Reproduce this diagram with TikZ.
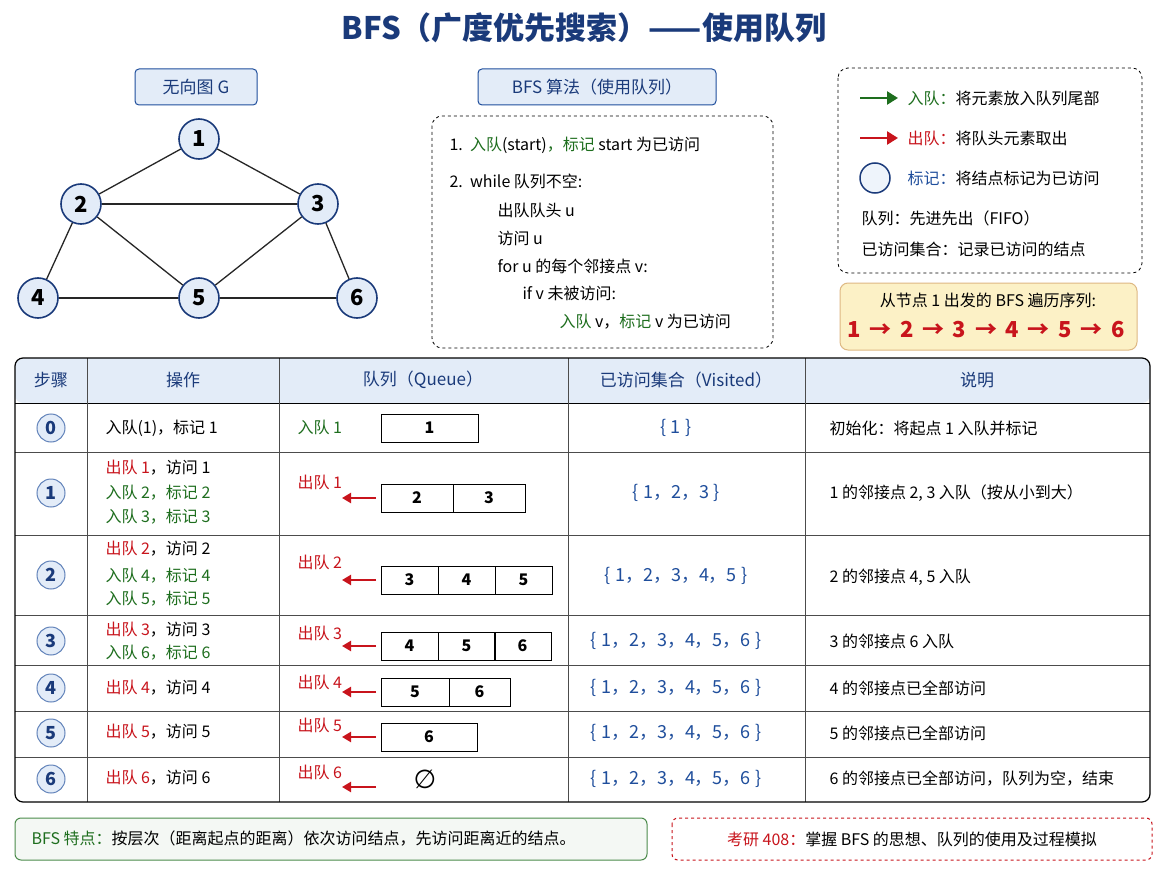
\documentclass[tikz,border=0pt]{standalone}
\usepackage{fontspec}
\setmainfont{Noto Sans CJK SC}
\newfontfamily\djv{DejaVu Sans}
\usetikzlibrary{arrows.meta}
\definecolor{gr}{HTML}{1E6E1E}
\definecolor{rd}{HTML}{C8141C}
\definecolor{bl}{HTML}{1F4E9C}
\definecolor{nv}{HTML}{1A3A7A}
\definecolor{lb}{HTML}{E3ECF8}
\definecolor{yl}{HTML}{FCF1C6}
\newcommand{\G}[1]{\textcolor{gr}{#1}}
\newcommand{\R}[1]{\textcolor{rd}{#1}}
\begin{document}
\begin{tikzpicture}[x=1pt,y=-1pt,
 every node/.style={font=\fontsize{16}{19}\selectfont},
 gn/.style={circle,draw=nv,line width=1.6pt,fill=lb,minimum size=40pt,inner sep=0pt,font=\fontsize{22}{24}\selectfont\bfseries},
 hd/.style={draw=bl,line width=1pt,fill=lb,rounded corners=4pt,minimum height=36pt,font=\fontsize{17}{19}\selectfont,text=nv},
 st/.style={circle,draw=bl!70,line width=1pt,fill=lb,minimum size=28pt,inner sep=0pt,font=\fontsize{18}{20}\selectfont\bfseries,text=nv},
 qc/.style={draw,line width=1pt,minimum height=28pt,inner sep=0pt,font=\fontsize{16}{18}\selectfont\bfseries},
 ar/.style={draw=rd,line width=2.2pt,-{Triangle[length=9pt,width=10pt]}},
 lt/.style={anchor=west},
 vs/.style={text=bl,font=\fontsize{18}{20}\selectfont}]
\useasboundingbox (0,0) rectangle (1168,880);
\fill[white] (0,0) rectangle (1168,880);
\node[text=nv,font=\fontsize{31}{34}\selectfont\bfseries] (title) at (584,28) {BFS（广度优先搜索）——使用队列};
% graph
\node[hd,minimum width=122pt] (gh) at (196,87) {无向图 G};
\node[gn] (n1) at (199,139) {1};
\node[gn] (n2) at (81,204) {2};
\node[gn] (n3) at (318,204) {3};
\node[gn] (n4) at (38,298) {4};
\node[gn] (n5) at (199,298) {5};
\node[gn] (n6) at (357,298) {6};
\foreach \a/\b in {n1/n2,n1/n3,n2/n3,n2/n4,n2/n5,n3/n5,n3/n6,n4/n5,n5/n6}
 \draw[line width=1.3pt,black!85] (\a) -- (\b);
% algorithm
\node[hd,minimum width=238pt] (ah) at (597,87) {BFS 算法（使用队列）};
\draw[dashed,line width=0.8pt,rounded corners=10pt] (432,116) rectangle (773,348);
\node[lt] (a1) at (446,145) {1.\ \ \G{入队}(start)\G{，标记} start 为已访问};
\node[lt] (a2) at (446,181) {2.\ \ while 队列不空:};
\node[lt] (a3) at (494,210) {出队队头 u};
\node[lt] (a4) at (494,238) {访问 u};
\node[lt] (a5) at (494,266) {for u 的每个邻接点 v:};
\node[lt] (a6) at (519,293) {if v 未被访问:};
\node[lt] (a7) at (556,322) {\G{入队} v，\G{标记} v 为已访问};
% legend
\draw[dashed,line width=0.8pt,rounded corners=10pt] (838,68) rectangle (1142,273);
\coordinate (g1) at (860,98); \coordinate (g2) at (898,98);
\draw[draw=gr,line width=2.5pt,-{Triangle[length=11pt,width=13pt]}] (g1) -- (g2);
\node[lt] (l1) at (904,98) {\G{入队：}将元素放入队列尾部};
\coordinate (r1) at (860,138); \coordinate (r2) at (898,138);
\draw[draw=rd,line width=2.5pt,-{Triangle[length=11pt,width=13pt]}] (r1) -- (r2);
\node[lt] (l2) at (904,138) {\R{出队：}将队头元素取出};
\node[circle,draw=nv,line width=1.5pt,fill=lb!60,minimum size=30pt] (lc) at (875,178) {};
\node[lt] (l3) at (904,178) {\textcolor{bl}{标记：}将结点标记为已访问};
\node[lt] (l4) at (858,218) {队列：先进先出（FIFO）};
\node[lt] (l5) at (858,249) {已访问集合：记录已访问的结点};
\draw[fill=yl,draw=yl!50!brown,line width=1pt,rounded corners=8pt] (840,283) rectangle (1137,350);
\node (s1) at (988,300) {从节点 1 出发的 BFS 遍历序列:};
\node[text=rd,font=\fontsize{22}{24}\selectfont\bfseries] (s2) at (986,330) {1\,~→~\,2\,~→~\,3\,~→~\,4\,~→~\,5\,~→~\,6};
% table
\fill[lb,rounded corners=8pt] (15,358) rectangle (1150,403);
\draw[line width=1pt] (15,403) -- (1150,403);
\foreach \y in {452,535,615,665,711,757} \draw[line width=0.8pt,black!70] (15,\y) -- (1150,\y);
\foreach \x in {87,279,568,805} \draw[line width=0.8pt,black!70] (\x,358) -- (\x,802);
\draw[line width=1.2pt,rounded corners=8pt] (15,358) rectangle (1150,802);
\foreach \t/\x/\n in {步骤/51/h1,操作/183/h2,队列（Queue）/423/h3,已访问集合（Visited）/686/h4,说明/977/h5}
 \node[text=nv,font=\fontsize{17}{19}\selectfont] (\n) at (\x,380) {\t};
% steps
\foreach \k/\y in {0/428,1/493,2/575,3/641,4/688,5/733,6/779}
 \node[st] (s\k) at (51,\y) {\k};
% operations
\node[lt] (o0) at (102,428) {入队(1)，标记 1};
\node[lt] (o1a) at (102,468) {\R{出队 1}，访问 1};
\node[lt] (o1b) at (102,493) {\G{入队 2，标记 2}};
\node[lt] (o1c) at (102,517) {\G{入队 3，标记 3}};
\node[lt] (o2a) at (102,549) {\R{出队 2}，访问 2};
\node[lt] (o2b) at (102,576) {\G{入队 4，标记 4}};
\node[lt] (o2c) at (102,599) {\G{入队 5，标记 5}};
\node[lt] (o3a) at (102,630) {\R{出队 3}，访问 3};
\node[lt] (o3b) at (102,653) {\G{入队 6，标记 6}};
\node[lt] (o4) at (102,688) {\R{出队 4}，访问 4};
\node[lt] (o5) at (102,732) {\R{出队 5}，访问 5};
\node[lt] (o6) at (102,778) {\R{出队 6}，访问 6};
% queues
\node[lt,text=gr] (q0l) at (294,427) {入队 1};
\node[qc,minimum width=97pt] (q0) at (429.5,428) {1};
\foreach \r/\ly/\by in {1/482/498,2/562/580,3/633/646,4/682/692,5/725/737,6/772/787}{
 \node[lt,text=rd] (ql\r) at (294,\ly) {出队 \r};
 \coordinate (qa\r) at (376,\by); \coordinate (qb\r) at (342,\by);
 \draw[ar] (qa\r) -- (qb\r);
}
\node[qc,minimum width=72pt] (q1a) at (417,498) {2};
\node[qc,minimum width=72pt] (q1b) at (489,498) {3};
\node[qc,minimum width=57pt] (q2a) at (409.5,580) {3};
\node[qc,minimum width=57pt] (q2b) at (466.5,580) {4};
\node[qc,minimum width=57pt] (q2c) at (523.5,580) {5};
\node[qc,minimum width=57pt] (q3a) at (409.5,646) {4};
\node[qc,minimum width=57pt] (q3b) at (466.5,646) {5};
\node[qc,minimum width=57pt] (q3c) at (522.5,646) {6};
\node[qc,minimum width=68pt] (q4a) at (415,692) {5};
\node[qc,minimum width=61pt] (q4b) at (479.5,692) {6};
\node[qc,minimum width=96pt] (q5a) at (429,737) {6};
\node[font=\fontsize{26}{28}\selectfont\djv] (q6) at (425,779) {∅};
% visited
\node[vs] (v0) at (676,428) {\{ 1 \}};
\node[vs] (v1) at (676,493) {\{ 1，2，3 \}};
\node[vs] (v2) at (676,576) {\{ 1，2，3，4，5 \}};
\foreach \r/\y in {3/641,4/688,5/733,6/779}
 \node[vs] (v\r) at (676,\y) {\{ 1，2，3，4，5，6 \}};
% explanations
\node[lt] (e0) at (826,428) {初始化：将起点 1 入队并标记};
\node[lt] (e1) at (826,493) {1 的邻接点 2, 3 入队（按从小到大）};
\node[lt] (e2) at (826,577) {2 的邻接点 4, 5 入队};
\node[lt] (e3) at (826,641) {3 的邻接点 6 入队};
\node[lt] (e4) at (826,688) {4 的邻接点已全部访问};
\node[lt] (e5) at (826,733) {5 的邻接点已全部访问};
\node[lt] (e6) at (826,779) {6 的邻接点已全部访问，队列为空，结束};
% bottom
\draw[draw=gr!80,fill=gr!5,line width=1pt,rounded corners=6pt] (15,818) rectangle (647,860);
\node[lt] (b1) at (28,839) {\G{BFS 特点：}按层次（距离起点的距离）依次访问结点，先访问距离近的结点。};
\draw[draw=rd,dashed,line width=1pt,rounded corners=6pt] (672,818) rectangle (1152,860);
\node (b2) at (912,839) {\R{考研 408：}掌握 BFS 的思想、队列的使用及过程模拟};
\end{tikzpicture}
\end{document}
